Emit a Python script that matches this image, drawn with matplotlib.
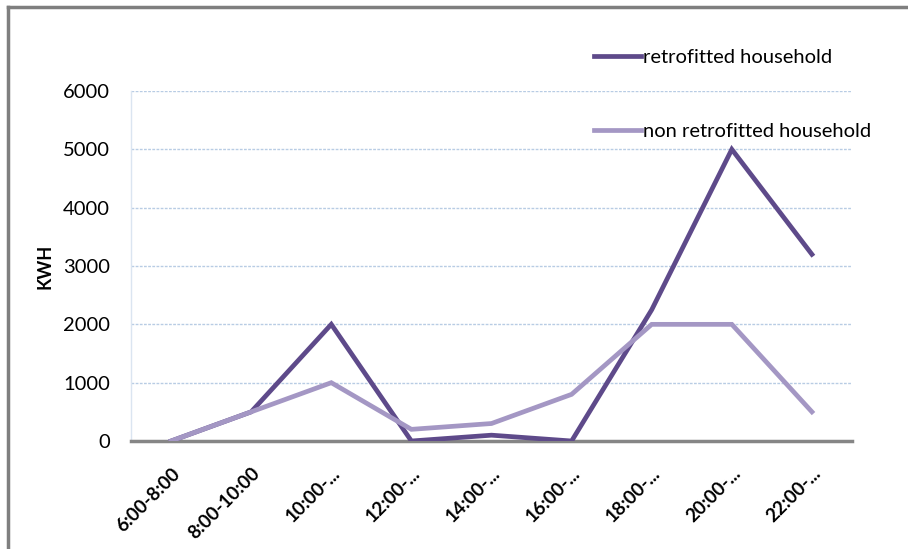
import matplotlib
matplotlib.use("Agg")
import matplotlib.pyplot as plt
from matplotlib.lines import Line2D

plt.rcParams['font.family'] = ['Lato', 'DejaVu Sans']

periods = ['6:00-8:00', '8:00-10:00', '10:00-...', '12:00-...', '14:00-...',
           '16:00-...', '18:00-...', '20:00-...', '22:00-...']
retrofitted = [0, 500, 2000, 0, 100, 0, 2250, 5000, 3200]
non_retrofitted = [0, 500, 1000, 200, 300, 800, 2000, 2000, 500]

dark = '#5e4a8a'
light = '#a497c4'

fig = plt.figure(figsize=(9.08, 5.49), dpi=100)
ax = fig.add_axes([0.1443, 0.1967, 0.7940, 0.6375])

x = range(len(periods))
ax.plot(x, retrofitted, color=dark, lw=3.4, label='retrofitted household',
        solid_joinstyle='miter', zorder=3)
ax.plot(x, non_retrofitted, color=light, lw=3.4, label='non retrofitted household',
        solid_joinstyle='miter', zorder=3)

ax.set_xlim(-0.5, len(periods) - 0.5)
ax.set_ylim(0, 6000)
ax.set_yticks(range(0, 6001, 1000))
ax.set_xticks(list(x))
ax.set_xticklabels(periods, rotation=45, ha='right', rotation_mode='anchor',
                   fontsize=13.5, fontweight='bold')
ax.tick_params(axis='y', labelsize=14.5, length=0, pad=15)
ax.tick_params(axis='x', length=0, pad=17)
ax.set_ylabel('KWH', fontsize=13, fontweight='bold', labelpad=7)

for v in range(1000, 6001, 1000):
    ax.axhline(v, color='#b8cce4', lw=1, ls=(0, (2, 1)), zorder=1)

for s in ['top', 'right']:
    ax.spines[s].set_visible(False)
ax.spines['left'].set_color('#dbe5f1')
ax.spines['left'].set_linewidth(1)
ax.spines['bottom'].set_color('#868686')
ax.spines['bottom'].set_linewidth(2.5)

ax.legend(loc='upper left', bbox_to_anchor=(0.6315, 1.143), frameon=False,
          fontsize=14.5, handlelength=2.3, handletextpad=0.1, labelspacing=2.8,
          borderaxespad=0)

# outer frame (top and left visible)
fig.add_artist(Line2D([8 / 908, 8 / 908], [0, 1 - 7 / 549], color='#7f7f7f', lw=2.5,
                      transform=fig.transFigure))
fig.add_artist(Line2D([8 / 908, 1], [1 - 7 / 549, 1 - 7 / 549], color='#7f7f7f', lw=2.5,
                      transform=fig.transFigure))

fig.savefig('out.png', dpi=100)
